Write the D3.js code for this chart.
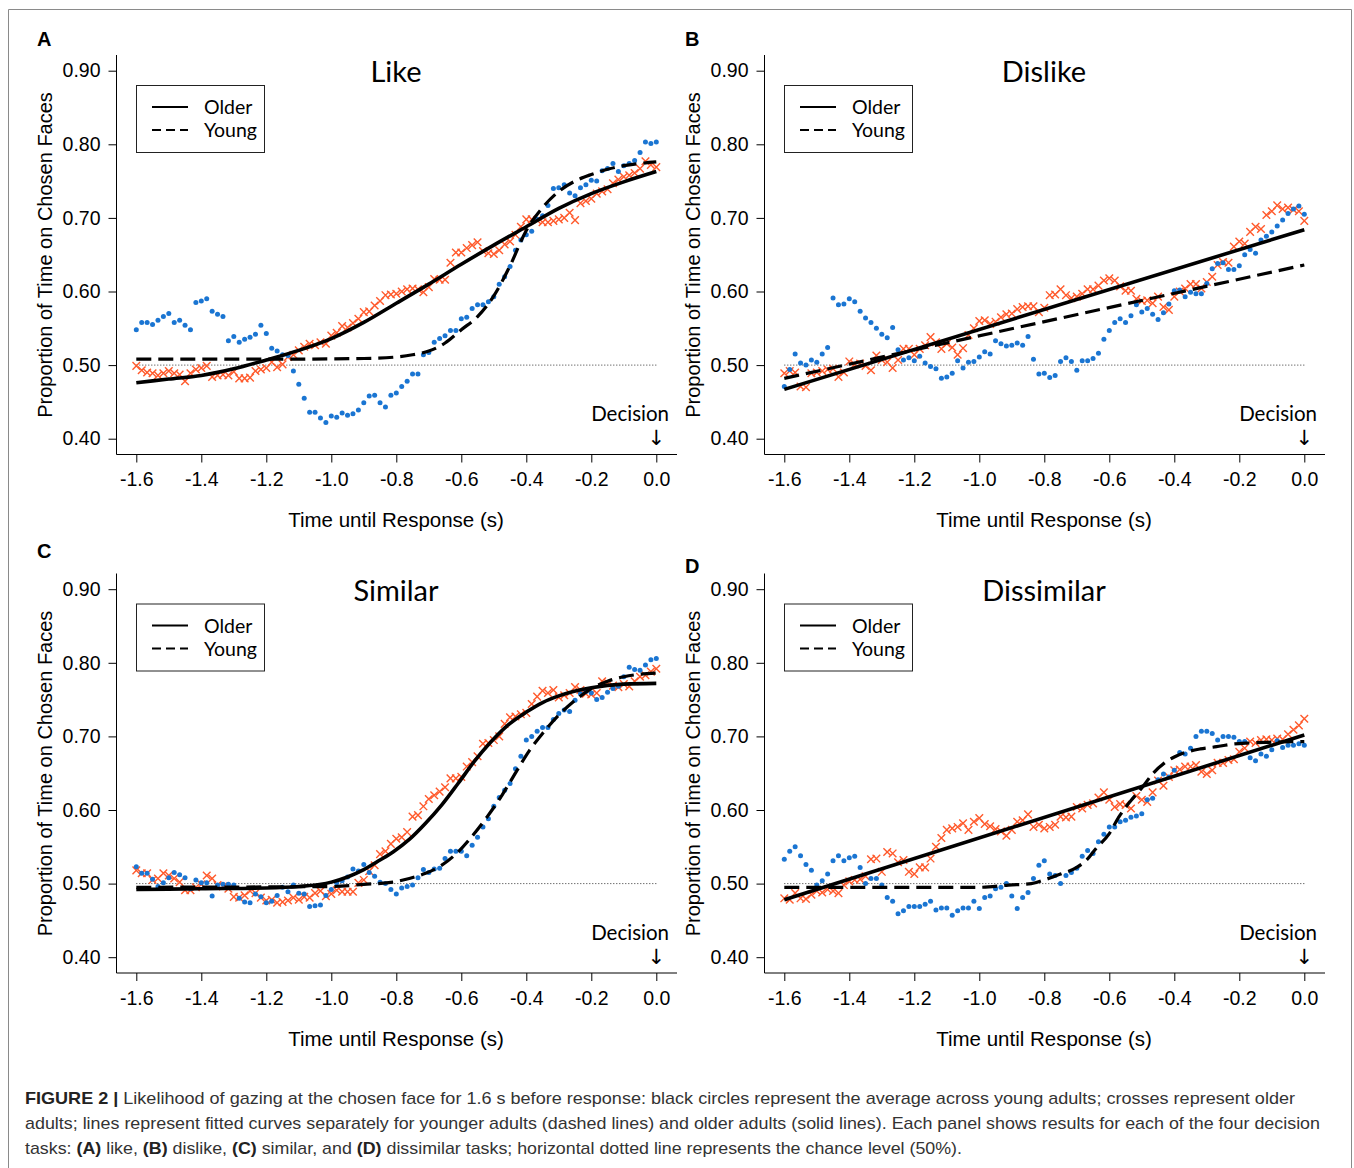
<!DOCTYPE html>
<html>
<head>
<meta charset="utf-8">
<script src="https://cdn.jsdelivr.net/npm/d3@7"></script>
<style>
  body { margin: 0; background: #fff; }
  svg { display: block; font-family: Arial, "Liberation Sans", sans-serif; }
</style>
</head>
<body>
<svg id="fig" width="1354" height="1168"></svg>
<script>
// sample times: 60 Hz, 1.6 s before response
const times = d3.range(97).map((i) => -1.6 + i / 60);
const xTicks = [-1.6, -1.4, -1.2, -1.0, -0.8, -0.6, -0.4, -0.2, 0.0];
const yTicks = [0.4, 0.5, 0.6, 0.7, 0.8, 0.9];

// --- A: like ---
const likeYoung = [
  0.548, 0.558, 0.558, 0.555, 0.561, 0.566, 0.570, 0.558, 0.561, 0.554,
  0.548, 0.585, 0.587, 0.590, 0.573, 0.569, 0.566, 0.533, 0.539, 0.531,
  0.535, 0.538, 0.542, 0.554, 0.543, 0.523, 0.519, 0.514, 0.513, 0.492,
  0.474, 0.455, 0.436, 0.436, 0.428, 0.422, 0.431, 0.429, 0.435, 0.432,
  0.434, 0.439, 0.449, 0.458, 0.459, 0.449, 0.443, 0.459, 0.462, 0.471,
  0.478, 0.488, 0.488, 0.514, 0.517, 0.531, 0.536, 0.540, 0.547, 0.547,
  0.563, 0.565, 0.577, 0.582, 0.582, 0.586, 0.593, 0.610, 0.620, 0.634,
  0.656, 0.670, 0.677, 0.682, 0.698, 0.703, 0.717, 0.740, 0.741, 0.745,
  0.734, 0.730, 0.741, 0.745, 0.751, 0.750, 0.764, 0.767, 0.774, 0.763,
  0.771, 0.774, 0.778, 0.789, 0.803, 0.801, 0.803,
];
const likeOlder = [
  0.499, 0.493, 0.490, 0.489, 0.486, 0.489, 0.492, 0.489, 0.487, 0.478,
  0.489, 0.494, 0.496, 0.499, 0.484, 0.486, 0.487, 0.486, 0.491, 0.482,
  0.482, 0.483, 0.492, 0.494, 0.496, 0.504, 0.497, 0.501, 0.511, 0.514,
  0.520, 0.525, 0.529, 0.527, 0.531, 0.529, 0.540, 0.544, 0.553, 0.551,
  0.557, 0.563, 0.572, 0.573, 0.581, 0.587, 0.595, 0.596, 0.597, 0.600,
  0.603, 0.604, 0.603, 0.599, 0.606, 0.617, 0.616, 0.616, 0.639, 0.653,
  0.653, 0.659, 0.663, 0.667, 0.655, 0.652, 0.651, 0.656, 0.664, 0.668,
  0.677, 0.688, 0.698, 0.698, 0.697, 0.694, 0.694, 0.696, 0.698, 0.700,
  0.707, 0.697, 0.720, 0.723, 0.726, 0.733, 0.736, 0.739, 0.747, 0.752,
  0.756, 0.758, 0.761, 0.767, 0.777, 0.772, 0.769,
];
const likeOlderFit = [[-1.6, 0.476], [-1.5, 0.481], [-1.4, 0.486], [-1.3, 0.495], [-1.2, 0.507],
  [-1.1, 0.520], [-1.0, 0.536], [-0.9, 0.558], [-0.8, 0.584], [-0.7, 0.610], [-0.6, 0.637],
  [-0.5, 0.663], [-0.4, 0.688], [-0.3, 0.713], [-0.2, 0.733], [-0.1, 0.749], [0, 0.763]];
const likeYoungFit = [[-1.6, 0.508], [-1.2, 0.508], [-0.9, 0.509], [-0.8, 0.511], [-0.75, 0.514],
  [-0.7, 0.519], [-0.65, 0.530], [-0.6, 0.548], [-0.55, 0.566], [-0.5, 0.594], [-0.45, 0.635],
  [-0.4, 0.683], [-0.35, 0.714], [-0.3, 0.736], [-0.25, 0.750], [-0.2, 0.759], [-0.15, 0.766],
  [-0.1, 0.771], [-0.05, 0.774], [0, 0.776]];

// --- B: dislike ---
const dislikeYoung = [
  0.471, 0.494, 0.515, 0.503, 0.500, 0.507, 0.504, 0.515, 0.524, 0.591,
  0.582, 0.583, 0.590, 0.586, 0.573, 0.564, 0.558, 0.550, 0.542, 0.537,
  0.551, 0.521, 0.507, 0.510, 0.506, 0.512, 0.503, 0.498, 0.495, 0.482,
  0.484, 0.489, 0.506, 0.496, 0.504, 0.505, 0.511, 0.518, 0.515, 0.533,
  0.529, 0.526, 0.527, 0.530, 0.527, 0.539, 0.508, 0.488, 0.489, 0.483,
  0.486, 0.505, 0.510, 0.505, 0.493, 0.506, 0.506, 0.509, 0.516, 0.535,
  0.547, 0.558, 0.563, 0.558, 0.567, 0.582, 0.572, 0.577, 0.569, 0.562,
  0.571, 0.583, 0.601, 0.602, 0.593, 0.599, 0.597, 0.597, 0.611, 0.631,
  0.638, 0.639, 0.630, 0.630, 0.635, 0.650, 0.657, 0.652, 0.670, 0.675,
  0.681, 0.689, 0.697, 0.706, 0.712, 0.716, 0.705,
];
const dislikeOlder = [
  0.489, 0.492, 0.490, 0.471, 0.470, 0.489, 0.490, 0.492, 0.494, 0.495,
  0.484, 0.490, 0.505, 0.501, 0.502, 0.499, 0.493, 0.513, 0.507, 0.504,
  0.496, 0.507, 0.522, 0.522, 0.514, 0.522, 0.527, 0.538, 0.531, 0.522,
  0.529, 0.524, 0.514, 0.523, 0.541, 0.550, 0.560, 0.561, 0.556, 0.559,
  0.565, 0.569, 0.570, 0.576, 0.579, 0.580, 0.580, 0.572, 0.578, 0.595,
  0.596, 0.603, 0.595, 0.591, 0.593, 0.597, 0.603, 0.603, 0.608, 0.615,
  0.618, 0.615, 0.607, 0.601, 0.601, 0.590, 0.587, 0.588, 0.584, 0.593,
  0.579, 0.575, 0.593, 0.600, 0.604, 0.610, 0.610, 0.604, 0.613, 0.620,
  0.636, 0.640, 0.639, 0.661, 0.668, 0.665, 0.681, 0.688, 0.685, 0.704,
  0.709, 0.717, 0.712, 0.714, 0.711, 0.709, 0.696,
];
const dislikeOlderFit = [[-1.6, 0.467], [0, 0.684]];
const dislikeYoungFit = [[-1.6, 0.482], [0, 0.636]];

// --- C: similar ---
const similarYoung = [
  0.523, 0.514, 0.514, 0.506, 0.496, 0.501, 0.508, 0.515, 0.512, 0.508,
  0.493, 0.505, 0.501, 0.501, 0.483, 0.498, 0.499, 0.499, 0.498, 0.480,
  0.475, 0.474, 0.486, 0.482, 0.474, 0.476, 0.484, 0.495, 0.489, 0.498,
  0.487, 0.486, 0.469, 0.470, 0.471, 0.484, 0.492, 0.501, 0.504, 0.509,
  0.520, 0.517, 0.526, 0.515, 0.510, 0.502, 0.500, 0.492, 0.486, 0.494,
  0.496, 0.498, 0.508, 0.519, 0.515, 0.520, 0.521, 0.534, 0.544, 0.544,
  0.544, 0.538, 0.552, 0.563, 0.577, 0.588, 0.605, 0.617, 0.627, 0.636,
  0.656, 0.673, 0.695, 0.700, 0.707, 0.712, 0.712, 0.723, 0.731, 0.736,
  0.734, 0.749, 0.758, 0.761, 0.759, 0.750, 0.753, 0.760, 0.765, 0.768,
  0.781, 0.794, 0.791, 0.790, 0.797, 0.804, 0.806,
];
const similarOlder = [
  0.518, 0.514, 0.514, 0.505, 0.507, 0.514, 0.511, 0.507, 0.502, 0.491,
  0.491, 0.495, 0.499, 0.511, 0.507, 0.498, 0.496, 0.493, 0.482, 0.481,
  0.484, 0.490, 0.487, 0.481, 0.477, 0.478, 0.474, 0.475, 0.477, 0.481,
  0.478, 0.482, 0.481, 0.487, 0.490, 0.483, 0.486, 0.491, 0.489, 0.489,
  0.489, 0.501, 0.505, 0.517, 0.525, 0.540, 0.544, 0.554, 0.561, 0.563,
  0.570, 0.591, 0.593, 0.605, 0.615, 0.620, 0.625, 0.631, 0.643, 0.643,
  0.645, 0.659, 0.665, 0.673, 0.690, 0.691, 0.695, 0.700, 0.717, 0.726,
  0.727, 0.730, 0.732, 0.744, 0.754, 0.762, 0.759, 0.763, 0.753, 0.756,
  0.759, 0.767, 0.763, 0.758, 0.757, 0.759, 0.775, 0.773, 0.769, 0.767,
  0.771, 0.768, 0.775, 0.781, 0.783, 0.788, 0.792,
];
const similarOlderFit = [[-1.6, 0.492], [-1.4, 0.493], [-1.2, 0.494], [-1.1, 0.496], [-1.0, 0.502],
  [-0.95, 0.509], [-0.9, 0.519], [-0.85, 0.532], [-0.81, 0.543], [-0.76, 0.560], [-0.71, 0.582],
  [-0.66, 0.607], [-0.61, 0.636], [-0.56, 0.666], [-0.51, 0.692], [-0.46, 0.714], [-0.4, 0.733],
  [-0.35, 0.746], [-0.3, 0.755], [-0.2, 0.766], [-0.1, 0.771], [0, 0.772]];
const similarYoungFit = [[-1.6, 0.495], [-1.0, 0.496], [-0.9, 0.499], [-0.81, 0.502], [-0.76, 0.507],
  [-0.71, 0.514], [-0.66, 0.525], [-0.61, 0.543], [-0.56, 0.568], [-0.52, 0.591], [-0.475, 0.620],
  [-0.435, 0.649], [-0.39, 0.681], [-0.35, 0.704], [-0.3, 0.729], [-0.25, 0.749], [-0.2, 0.765],
  [-0.15, 0.775], [-0.1, 0.781], [0, 0.786]];

// --- D: dissimilar ---
const dissimilarYoung = [
  0.533, 0.544, 0.550, 0.538, 0.526, 0.518, 0.498, 0.504, 0.513, 0.531,
  0.538, 0.531, 0.535, 0.537, 0.522, 0.500, 0.507, 0.507, 0.498, 0.481,
  0.476, 0.459, 0.463, 0.469, 0.469, 0.469, 0.472, 0.476, 0.464, 0.467,
  0.467, 0.457, 0.463, 0.467, 0.467, 0.476, 0.466, 0.481, 0.483, 0.493,
  0.495, 0.500, 0.483, 0.466, 0.481, 0.488, 0.507, 0.525, 0.531, 0.513,
  0.511, 0.500, 0.511, 0.515, 0.521, 0.537, 0.545, 0.541, 0.557, 0.567,
  0.577, 0.577, 0.584, 0.586, 0.590, 0.592, 0.595, 0.614, 0.616, 0.641,
  0.649, 0.645, 0.654, 0.678, 0.676, 0.684, 0.700, 0.707, 0.707, 0.704,
  0.695, 0.700, 0.700, 0.699, 0.693, 0.693, 0.671, 0.667, 0.676, 0.673,
  0.682, 0.694, 0.685, 0.688, 0.688, 0.690, 0.688,
];
const dissimilarOlder = [
  0.480, 0.478, 0.487, 0.480, 0.479, 0.485, 0.490, 0.488, 0.492, 0.490,
  0.487, 0.498, 0.503, 0.505, 0.506, 0.510, 0.533, 0.534, 0.516, 0.543,
  0.541, 0.529, 0.532, 0.516, 0.513, 0.522, 0.522, 0.534, 0.550, 0.562,
  0.573, 0.575, 0.577, 0.582, 0.573, 0.584, 0.589, 0.581, 0.578, 0.574,
  0.571, 0.565, 0.573, 0.584, 0.586, 0.594, 0.577, 0.580, 0.575, 0.577,
  0.580, 0.591, 0.590, 0.591, 0.604, 0.602, 0.607, 0.609, 0.617, 0.624,
  0.614, 0.604, 0.608, 0.607, 0.602, 0.619, 0.614, 0.611, 0.624, 0.640,
  0.633, 0.645, 0.654, 0.655, 0.659, 0.659, 0.661, 0.652, 0.649, 0.654,
  0.664, 0.664, 0.668, 0.669, 0.679, 0.684, 0.693, 0.691, 0.695, 0.696,
  0.695, 0.697, 0.696, 0.703, 0.709, 0.715, 0.724,
];
const dissimilarOlderFit = [[-1.6, 0.478], [0, 0.702]];
const dissimilarYoungFit = [[-1.6, 0.495], [-1.0, 0.495], [-0.91, 0.498], [-0.84, 0.500], [-0.8, 0.505],
  [-0.75, 0.513], [-0.7, 0.522], [-0.67, 0.532], [-0.64, 0.548], [-0.6, 0.568], [-0.57, 0.591],
  [-0.535, 0.612], [-0.5, 0.630], [-0.465, 0.650], [-0.43, 0.664], [-0.4, 0.672], [-0.36, 0.679],
  [-0.32, 0.683], [-0.27, 0.686], [-0.23, 0.689], [-0.17, 0.691], [-0.11, 0.692], [0, 0.693]];

const captionLines = [
  'Likelihood of gazing at the chosen face for 1.6 s before response: black circles represent the average across young adults; crosses represent older',
  'adults; lines represent fitted curves separately for younger adults (dashed lines) and older adults (solid lines). Each panel shows results for each of the four decision',
];

const BLUE = '#1a75d2';
const ORANGE = '#ff5a2c';
const LABEL_FONT = 'Lato, "Open Sans", sans-serif';

const svg = d3.select('#fig');

// figure frame
svg.append('path')
  .attr('d', 'M8.5,1168V9.5H1351.5V1168')
  .attr('fill', 'none')
  .attr('stroke', '#8a8a8a')
  .attr('stroke-width', 1);

const panels = [
  { letter: 'A', title: 'Like', young: likeYoung, older: likeOlder, youngFit: likeYoungFit, olderFit: likeOlderFit, dx: 0, dy: 0, ly: 46 },
  { letter: 'B', title: 'Dislike', young: dislikeYoung, older: dislikeOlder, youngFit: dislikeYoungFit, olderFit: dislikeOlderFit, dx: 648, dy: 0, ly: 46 },
  { letter: 'C', title: 'Similar', young: similarYoung, older: similarOlder, youngFit: similarYoungFit, olderFit: similarOlderFit, dx: 0, dy: 518.5, ly: 39 },
  { letter: 'D', title: 'Dissimilar', young: dissimilarYoung, older: dissimilarOlder, youngFit: dissimilarYoungFit, olderFit: dissimilarOlderFit, dx: 648, dy: 518.5, ly: 54 },
];

function drawPanel(p) {
  const g = svg.append('g').attr('transform', `translate(${p.dx},${p.dy})`);
  const x = d3.scaleLinear().domain([-1.6, 0]).range([136.3, 656.3]);
  const y = d3.scaleLinear().domain([0.4, 0.9]).range([438.7, 70.7]);
  const left = 116;
  const bottom = 454;

  // axes (L-shaped box like base R)
  g.append('path')
    .attr('d', `M${left + 0.5},55V${bottom + 0.5}H677`)
    .attr('fill', 'none')
    .attr('stroke', '#000');

  const yAxis = g.append('g')
    .attr('transform', `translate(${left + 0.5},0)`)
    .call(d3.axisLeft(y).tickValues(yTicks).tickFormat((d) => d.toFixed(2)).tickSize(8).tickPadding(8));
  const xAxis = g.append('g')
    .attr('transform', `translate(0,${bottom + 0.5})`)
    .call(d3.axisBottom(x).tickValues(xTicks).tickFormat((d) => d.toFixed(1)).tickSize(8).tickPadding(10));
  [yAxis, xAxis].forEach((a) => {
    a.select('.domain').remove();
    a.selectAll('text').attr('font-size', 19.5).attr('font-family', 'Arial, "Liberation Sans", sans-serif').attr('fill', '#000');
    a.selectAll('line').attr('stroke', '#000');
  });

  // axis titles
  g.append('text')
    .attr('transform', 'translate(52,255) rotate(-90)')
    .attr('text-anchor', 'middle')
    .attr('font-size', 20)
    .text('Proportion of Time on Chosen Faces');
  g.append('text')
    .attr('x', 396)
    .attr('y', 527)
    .attr('text-anchor', 'middle')
    .attr('font-size', 20.5)
    .text('Time until Response (s)');

  // panel letter and title
  svg.append('text')
    .attr('x', 37 + p.dx)
    .attr('y', p.ly + (p.dy ? 518.5 : 0))
    .attr('font-size', 20)
    .attr('font-weight', 'bold')
    .text(p.letter);
  g.append('text')
    .attr('x', 396)
    .attr('y', 82)
    .attr('text-anchor', 'middle')
    .attr('font-family', LABEL_FONT)
    .attr('font-size', 29)
    .text(p.title);

  // chance level
  g.append('line')
    .attr('x1', x(-1.6))
    .attr('x2', x(0))
    .attr('y1', y(0.5))
    .attr('y2', y(0.5))
    .attr('stroke', '#333')
    .attr('stroke-width', 1)
    .attr('stroke-dasharray', '1,2');

  // older: crosses
  g.append('g')
    .selectAll('path')
    .data(p.older)
    .join('path')
    .attr('transform', (d, i) => `translate(${x(times[i])},${y(d)})`)
    .attr('d', 'M-3.8,-3.8L3.8,3.8M-3.8,3.8L3.8,-3.8')
    .attr('stroke', ORANGE)
    .attr('stroke-width', 1.4)
    .attr('fill', 'none');

  // young: dots
  g.append('g')
    .selectAll('circle')
    .data(p.young)
    .join('circle')
    .attr('cx', (d, i) => x(times[i]))
    .attr('cy', (d) => y(d))
    .attr('r', 2.5)
    .attr('fill', BLUE);

  // fitted curves
  const line = d3.line().x((d) => x(d[0])).y((d) => y(d[1])).curve(d3.curveMonotoneX);
  g.append('path')
    .attr('d', line(p.youngFit))
    .attr('fill', 'none')
    .attr('stroke', '#000')
    .attr('stroke-width', 3.2)
    .attr('stroke-dasharray', '15,7');
  g.append('path')
    .attr('d', line(p.olderFit))
    .attr('fill', 'none')
    .attr('stroke', '#000')
    .attr('stroke-width', 3.6);

  // legend
  const lg = g.append('g');
  lg.append('rect')
    .attr('x', 136.5)
    .attr('y', 85.5)
    .attr('width', 128)
    .attr('height', 67)
    .attr('fill', '#fff')
    .attr('stroke', '#222');
  [['Older', null, 107], ['Young', '9,5', 130]].forEach(([label, dash, ly]) => {
    lg.append('line')
      .attr('x1', 152)
      .attr('x2', 188)
      .attr('y1', ly)
      .attr('y2', ly)
      .attr('stroke', '#000')
      .attr('stroke-width', 2)
      .attr('stroke-dasharray', dash);
    lg.append('text')
      .attr('x', 204)
      .attr('y', ly + 7)
      .attr('font-family', LABEL_FONT)
      .attr('font-size', 19.5)
      .text(label);
  });

  // decision marker
  g.append('text')
    .attr('x', 669)
    .attr('y', 421)
    .attr('text-anchor', 'end')
    .attr('font-family', LABEL_FONT)
    .attr('font-size', 20.5)
    .text('Decision');
  g.append('text')
    .attr('x', x(0))
    .attr('y', 445)
    .attr('text-anchor', 'middle')
    .attr('font-family', '"DejaVu Sans", sans-serif')
    .attr('font-size', 21)
    .text('\u2193');
}

panels.forEach(drawPanel);

// caption
const cap = svg.append('g')
  .attr('font-family', 'Arial, "Liberation Sans", sans-serif')
  .attr('font-size', 17)
  .attr('fill', '#333');
const l1 = cap.append('text').attr('x', 25).attr('y', 1104).attr('textLength', 1270).attr('lengthAdjust', 'spacingAndGlyphs');
l1.append('tspan').attr('font-weight', 'bold').attr('fill', '#222').text('FIGURE 2 | ');
l1.append('tspan').text(captionLines[0]);
cap.append('text').attr('x', 25).attr('y', 1129).attr('textLength', 1295).attr('lengthAdjust', 'spacingAndGlyphs')
  .text(captionLines[1]);
const l3 = cap.append('text').attr('x', 25).attr('y', 1154).attr('textLength', 937).attr('lengthAdjust', 'spacingAndGlyphs');
[['tasks: ', false], ['(A)', true], [' like, ', false], ['(B)', true], [' dislike, ', false], ['(C)', true],
  [' similar, and ', false], ['(D)', true], [' dissimilar tasks; horizontal dotted line represents the chance level (50%).', false]]
  .forEach(([t, b]) => {
    l3.append('tspan').attr('font-weight', b ? 'bold' : null).attr('fill', b ? '#222' : null).text(t);
  });
</script>
</body>
</html>
